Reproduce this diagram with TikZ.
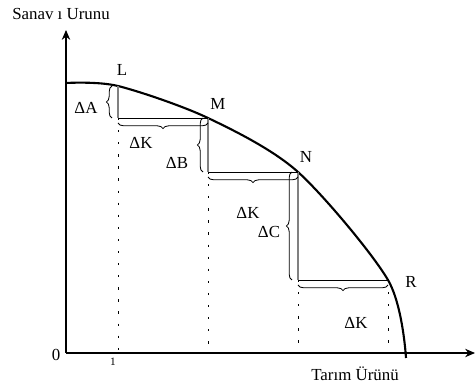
\documentclass[tikz,border=0pt]{standalone}
\usepackage{fontspec}
\setmainfont{Liberation Serif}
\usetikzlibrary{arrows.meta,decorations.pathreplacing}

\begin{document}
\begin{tikzpicture}[x=0.025cm, y=-0.025cm,
  axis/.style={line width=1pt, -{Stealth[length=7pt,width=6pt]}},
  crv/.style={line width=1.5pt},
  riser/.style={gray, line width=1.1pt},
  tread/.style={line width=0.6pt},
  drop/.style={line width=0.7pt, dash pattern=on 1.6pt off 7pt},
  brc/.style={decorate, decoration={brace, amplitude=4pt}, line width=0.6pt},
  lbl/.style={font=\fontsize{12}{14}\selectfont, inner sep=1pt},
  >=Stealth]
  \useasboundingbox (0,0) rectangle (476,387);
  % points on the frontier
  \coordinate (S) at (66,83);
  \coordinate (L) at (118,86);
  \coordinate (M) at (208,118);
  \coordinate (N) at (298,172);
  \coordinate (R) at (388,280);
  \coordinate (E) at (406,358);
  % corners of the steps
  \coordinate (L1) at (118,118);
  \coordinate (M1) at (208,172);
  \coordinate (N1) at (298,280);
  % feet on the x axis
  \coordinate (Lb) at (118,353);
  \coordinate (Mb) at (208,353);
  \coordinate (Nb) at (298,353);
  \coordinate (Rb) at (388,353);
  \coordinate (O) at (66,353);
  \coordinate (Ytop) at (66,30);
  \coordinate (Xend) at (475,353);
  % axes
  \draw[axis] (O) -- (Ytop);
  \draw[axis] (O) -- (Xend);
  % frontier
  \draw[crv] plot[smooth, tension=0.5] coordinates {(S) (L) (M) (N) (R) (E)};
  % steps
  \draw[riser] (L) -- (L1);
  \draw[riser] (M) -- (M1);
  \draw[riser] (N) -- (N1);
  \draw[tread] (L1) -- (M);
  \draw[tread] (M1) -- (N);
  \draw[tread] (N1) -- (R);
  % dotted drops
  \draw[drop] (L1) -- (Lb);
  \draw[drop] (M1) -- (Mb);
  \draw[drop] (N1) -- (Nb);
  \draw[drop] (R) -- (Rb);
  % braces
  \draw[brc] (112,118) -- (112,86);
  \draw[brc] (203,172) -- (203,118);
  \draw[brc] (292,280) -- (292,172);
  \draw[brc] (208,123) -- (118,123);
  \draw[brc] (298,177) -- (208,177);
  \draw[brc] (388,285) -- (298,285);
  % labels
  \node[lbl] (ttlY) at (61,14) {Sanav ı Urunu};
  \node[lbl] (ttlX) at (355,374) {Tarım Ürünü};
  \node[lbl] (zero) at (56,355) {0};
  \node[lbl, font=\footnotesize] (one) at (113,362) {1};
  \node[lbl] (lL) at (122,70) {L};
  \node[lbl] (lM) at (218,104) {M};
  \node[lbl] (lN) at (306,157) {N};
  \node[lbl] (lR) at (411,282) {R};
  \node[lbl] (dA) at (86,108) {ΔA};
  \node[lbl] (dK1) at (141,143) {ΔK};
  \node[lbl] (dB) at (177,163) {ΔB};
  \node[lbl] (dK2) at (248,213) {ΔK};
  \node[lbl] (dC) at (269,232) {ΔC};
  \node[lbl] (dK3) at (356,323) {ΔK};
\end{tikzpicture}
\end{document}
